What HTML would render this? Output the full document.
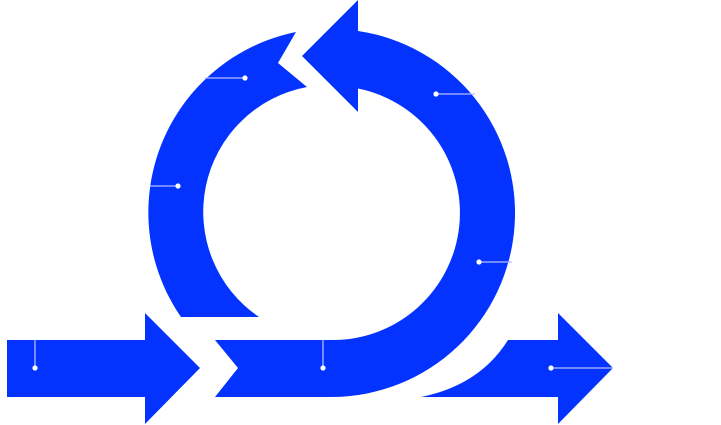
<!DOCTYPE html>
<html><head><style>html,body{margin:0;padding:0;background:#fff}svg{display:block}</style></head>
<body>
<svg width="721" height="425" viewBox="0 0 721 425" xmlns="http://www.w3.org/2000/svg">
<g fill="#0433ff">
<path d="M7,340 L145,340 L145,313 L200,368 L145,424 L145,397 L7,397 Z"/>
<path d="M181,317 A184,184 0 0 1 296,32 L278,63 L307,87 A127,127 0 0 0 259,317 Z"/>
<path d="M358,31 A184,184 0 0 1 333,397 L215,397 L238,368 L215,340 L333,340 A127,127 0 0 0 358,88.5 L358,112 L302,56 L358,0 Z"/>
<path d="M421,397 Q480,385 508,340 L558,340 L558,313 L613,368 L558,424 L558,397 Z"/>
</g>
<g stroke="#b3bdff" stroke-width="1.3" fill="none">
<line x1="35" y1="340" x2="35" y2="368"/>
<line x1="323" y1="340" x2="323" y2="368"/>
<line x1="551" y1="368" x2="613" y2="368"/>
<line x1="205" y1="78" x2="245" y2="78"/>
<line x1="150" y1="186" x2="178" y2="186"/>
<line x1="436" y1="94" x2="475" y2="94"/>
<line x1="479" y1="262" x2="512" y2="262"/>
</g>
<g fill="#fff">
<circle cx="35" cy="368" r="2.6"/><circle cx="323" cy="368" r="2.6"/><circle cx="551" cy="368" r="2.6"/>
<circle cx="245" cy="78" r="2.6"/><circle cx="178" cy="186" r="2.6"/><circle cx="436" cy="94" r="2.6"/><circle cx="479" cy="262" r="2.6"/>
</g>
</svg>
</body></html>
